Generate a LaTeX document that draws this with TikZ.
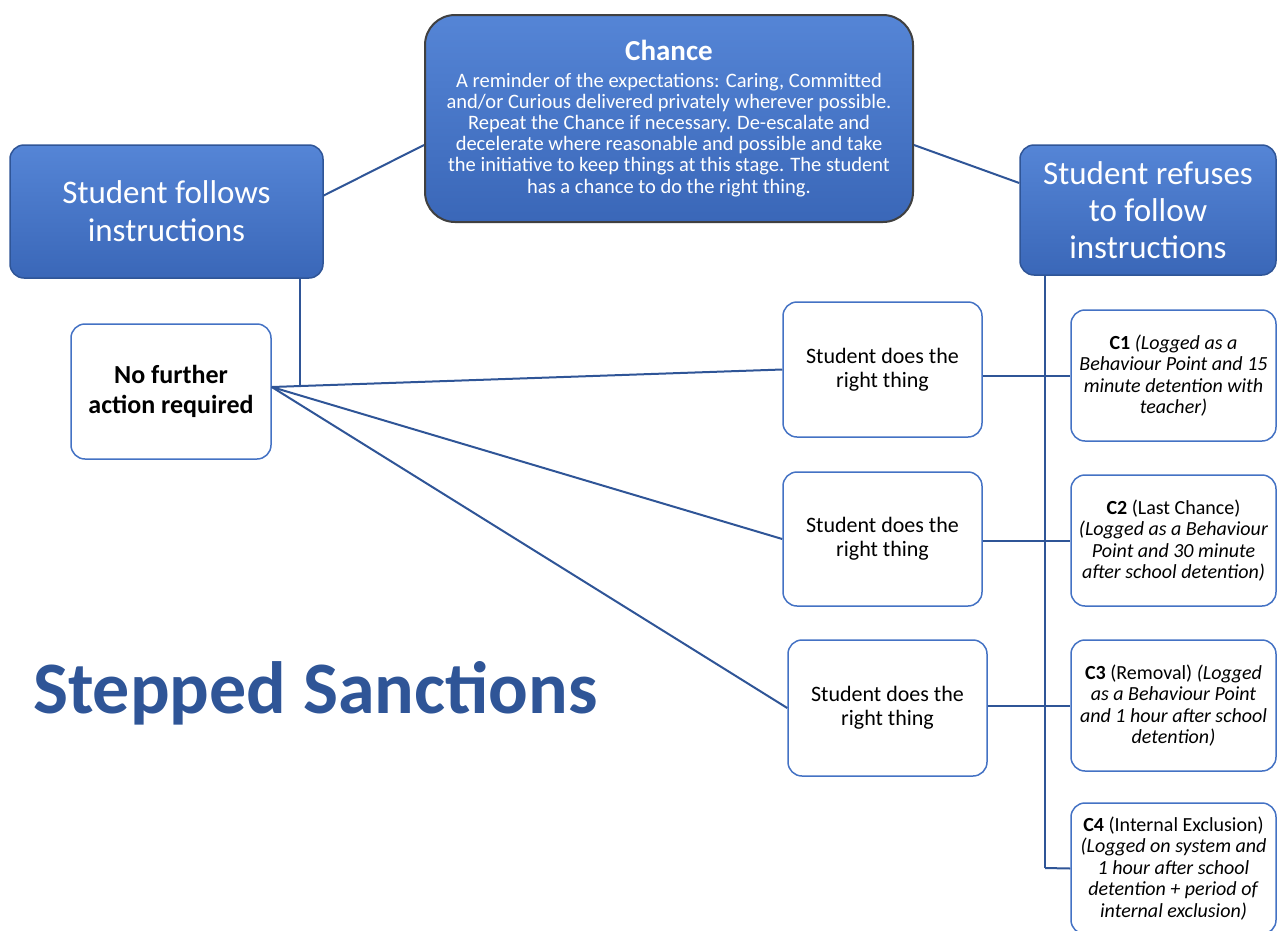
\documentclass[tikz,border=0pt]{standalone}
\usepackage{fontspec}
\setmainfont{Carlito}
\usetikzlibrary{calc}
\definecolor{bfill}{HTML}{4472C4}
\definecolor{btop}{HTML}{5585D6}
\definecolor{bbot}{HTML}{3A67B8}
\definecolor{bdraw}{HTML}{2F5597}
\definecolor{lnc}{HTML}{2F5597}
\definecolor{ttl}{HTML}{2F5597}
\definecolor{chdraw}{HTML}{404040}
\begin{document}
\begin{tikzpicture}[x=1pt,y=-1pt,
  bluebox/.style={draw=bdraw, line width=1.5pt, top color=btop, bottom color=bbot, rounded corners=14pt, text=white, align=center, inner sep=0pt},
  wbox/.style={draw=bfill, line width=1.5pt, fill=white, rounded corners=14pt, align=center, inner sep=0pt, text=black},
  conn/.style={draw=lnc, line width=2pt},
  sdtext/.style={font=\fontsize{22}{24}\selectfont},
  ctext/.style={font=\fontsize{20}{21.5}\selectfont}]
\useasboundingbox (0,0) rectangle (1277,930);

\coordinate (j) at (300,386);
\coordinate (v) at (1045,868);

% blue boxes
\node[bluebox, draw=chdraw, line width=2pt, rounded corners=30pt, minimum width=488pt, minimum height=207pt,
      font=\fontsize{20.5}{21.2}\selectfont] (ch) at (669,118.5)
 {{\fontsize{29}{30}\selectfont\bfseries Chance}\\[5pt]
  A reminder of the expectations: Caring, Committed\\
  and/or Curious delivered privately wherever possible.\\
  Repeat the Chance if necessary. De-escalate and\\
  decelerate where reasonable and possible and take\\
  the initiative to keep things at this stage. The student\\
  has a chance to do the right thing.};
\node[bluebox, minimum width=313pt, minimum height=133pt, font=\fontsize{33}{38}\selectfont] (sf) at (166.5,211.5)
 {Student follows\\instructions};
\node[bluebox, minimum width=256pt, minimum height=130pt, font=\fontsize{33}{37}\selectfont] (sr) at (1148,210)
 {Student refuses\\to follow\\instructions};

% white boxes
\node[wbox, minimum width=200pt, minimum height=135pt, font=\fontsize{26}{30}\selectfont\bfseries] (nf) at (171,391.5)
 {No further\\action required};
\node[wbox, sdtext, minimum width=199pt, minimum height=135pt] (sd1) at (882.5,369.5) {Student does the\\right thing};
\node[wbox, sdtext, minimum width=199pt, minimum height=134pt] (sd2) at (882.5,539) {Student does the\\right thing};
\node[wbox, sdtext, minimum width=199pt, minimum height=136pt] (sd3) at (887.5,708) {Student does the\\right thing};

\node[wbox, ctext, minimum width=205pt, minimum height=131pt] (c1) at (1173.5,375.5)
 {\textbf{C1} \textit{(Logged as a}\\ \textit{Behaviour Point and 15}\\ \textit{minute detention with}\\ \textit{teacher)}};
\node[wbox, ctext, minimum width=205pt, minimum height=131pt] (c2) at (1173.5,540.5)
 {\textbf{C2} (Last Chance)\\ \textit{(Logged as a Behaviour}\\ \textit{Point and 30 minute}\\ \textit{after school detention)}};
\node[wbox, ctext, minimum width=205pt, minimum height=131pt] (c3) at (1173.5,705.5)
 {\textbf{C3} (Removal) \textit{(Logged}\\ \textit{as a Behaviour Point}\\ \textit{and 1 hour after school}\\ \textit{detention)}};
\node[wbox, ctext, minimum width=205pt, minimum height=131pt] (c4) at (1173.5,868.5)
 {\textbf{C4} (Internal Exclusion)\\ \textit{(Logged on system and}\\ \textit{1 hour after school}\\ \textit{detention + period of}\\ \textit{internal exclusion)}};

% title
\node[anchor=west, inner sep=0pt, text=ttl, font=\fontsize{74}{80}\selectfont\bfseries] (title) at (33,693) {Stepped Sanctions};

% connectors
\draw[conn] ($(sf.east)+(0,-16)$) -- ($(ch.west)+(0,26.5)$);
\draw[conn] ($(ch.east)+(0,26.5)$) -- ($(sr.west)+(0,-27)$);
\draw[conn] ($(sf.south)+(133.5,0)$) -- (j);
\draw[conn] ($(nf.east)+(0,-4.5)$) -- (sd1.west);
\draw[conn] ($(nf.east)+(0,-4.5)$) -- (sd2.west);
\draw[conn] ($(nf.east)+(0,-4.5)$) -- (sd3.west);
\draw[conn] ($(sr.south)+(-103,0)$) -- (v);
\draw[conn] (sd1.east |- c1.west) -- (c1.west);
\draw[conn] (sd2.east |- c2.west) -- (c2.west);
\draw[conn] (sd3.east |- c3.west) -- (c3.west);
\draw[conn] (v) -- (c4.west);
\end{tikzpicture}
\end{document}
